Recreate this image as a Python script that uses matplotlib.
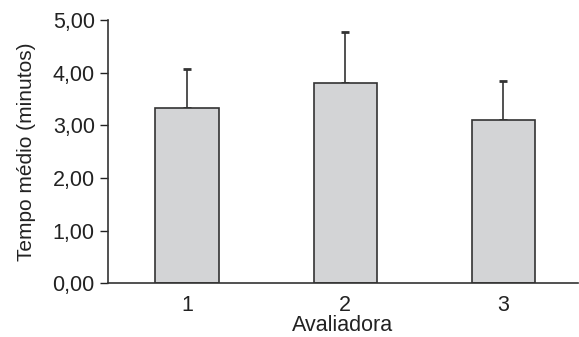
import matplotlib
matplotlib.use("Agg")
import matplotlib.pyplot as plt

plt.rcParams['font.family'] = ['Liberation Sans', 'DejaVu Sans']

avaliadoras = ["1", "2", "3"]
tempo_medio = [3.33, 3.81, 3.10]
desvio = [0.74, 0.96, 0.74]

fig = plt.figure(figsize=(5.79, 3.37), dpi=100)
ax = fig.add_axes([0.1865, 0.1588, 0.8115, 0.7819])

pos = [1, 2, 3]
ax.bar(pos, tempo_medio, width=0.40, color="#d3d4d6", edgecolor="#333333", linewidth=1.2, zorder=2)
ax.errorbar(pos, tempo_medio, yerr=[[0, 0, 0], desvio], fmt="none", ecolor="#333333",
            elinewidth=1.2, capsize=3, capthick=2, zorder=1)

ax.set_xlim(0.5, 3.47)
ax.set_ylim(0, 5)
ax.set_yticks([0, 1, 2, 3, 4, 5])
ax.set_yticklabels(["0,00", "1,00", "2,00", "3,00", "4,00", "5,00"])
ax.set_xticks(pos)
ax.set_xticklabels(avaliadoras)
ax.tick_params(axis="x", length=0, pad=8.5, labelsize=15.5, colors="#222222")
ax.tick_params(axis="y", length=6, width=1, pad=3.5, labelsize=15.5, colors="#222222")

for s in ["top", "right"]:
    ax.spines[s].set_visible(False)
for s in ["left", "bottom"]:
    ax.spines[s].set_color("#333333")
    ax.spines[s].set_linewidth(1.2)

ax.set_xlabel("Avaliadora", fontsize=15.5, color="#222222", labelpad=-1)
ax.set_ylabel("Tempo médio (minutos)", fontsize=15, color="#222222", labelpad=12)

fig.savefig("out.png", dpi=100)
